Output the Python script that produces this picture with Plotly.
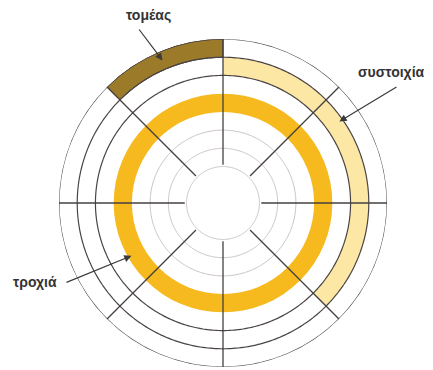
import numpy as np
import plotly.graph_objects as go

# disk geometry, in track units (radius of the outer edge = 9)
inner_circles = [2, 3, 4]
outer_circles = [7, 8, 9]
spoke_angles = [0, 45, 90, 135, 180, 225, 270, 315]
spoke_start = 2.1

# highlighted regions: (label, start angle, end angle, inner r, outer r)
track = ("τροχιά", 0, 360, 5, 6)
sector = ("τομέας", 90, 135, 8, 9)
cluster = ("συστοιχία", -45, 90, 7, 8)

# arrow heads, in (r, theta) on the disk
arrow_heads = {"τομέας": (8.5, 113), "συστοιχία": (7.8, 35), "τροχιά": (5.8, 210)}

# the page body adds an 8px margin, so the figure is drawn 8px smaller
# and all pixel positions below (taken from the window) are shifted by it
OFF = 8
W, H = 433 - OFF, 370 - OFF
CX, CY, RPX = 223 - OFF, 203 - OFF, 164  # centre and outer radius in pixels


def to_paper(r, theta):
    rr = r / 9 * RPX
    x = CX + rr * np.cos(np.radians(theta))
    y = CY - rr * np.sin(np.radians(theta))
    return x / W, 1 - y / H


def band(region, color, line_color=None):
    name, a0, a1, r0, r1 = region
    return go.Barpolar(
        theta=[(a0 + a1) / 2], width=[a1 - a0], base=[r0], r=[r1 - r0],
        marker=dict(color=color, line=dict(color=line_color or color, width=1 if line_color else 0)),
        name=name, hoverinfo="name",
    )


def circles(radii):
    th, rr = [], []
    for r in radii:
        t = np.linspace(0, 360, 361)
        th += list(t) + [None]
        rr += [r] * len(t) + [None]
    return th, rr


fig = go.Figure()
fig.add_trace(band(track, "#F6B91E"))
fig.add_trace(band(cluster, "#FCE7A4"))
fig.add_trace(band(sector, "#9B7A2A", "#3a3430"))

th, rr = circles(inner_circles)
fig.add_trace(go.Scatterpolar(theta=th, r=rr, mode="lines", line=dict(color="#c9c1c1", width=1), hoverinfo="skip"))
th, rr = circles(outer_circles)
fig.add_trace(go.Scatterpolar(theta=th, r=rr, mode="lines", line=dict(color="#4a4444", width=1.2), hoverinfo="skip"))

th, rr = [], []
for a in spoke_angles:
    th += [a, a, None]
    rr += [spoke_start, 9, None]
fig.add_trace(go.Scatterpolar(theta=th, r=rr, mode="lines", line=dict(color="#444040", width=1.3), hoverinfo="skip"))

fig.update_layout(
    width=W, height=H,
    margin=dict(l=0, r=0, t=0, b=0),
    paper_bgcolor="white",
    showlegend=False,
    polar=dict(
        domain=dict(x=[(CX - RPX) / W, (CX + RPX) / W], y=[1 - (CY + RPX) / H, 1 - (CY - RPX) / H]),
        bgcolor="white",
        radialaxis=dict(range=[0, 9], visible=False),
        angularaxis=dict(visible=False, rotation=0, direction="counterclockwise"),
        barmode="overlay",
    ),
    font=dict(family="Liberation Sans, Arial, sans-serif", color="#333333"),
)

# labels and arrows: label centre (px), tail of arrow (px), in window pixels
labels = {
    "τομέας": ((148, 15), (138, 28)),
    "συστοιχία": ((391, 72), (398, 86)),
    "τροχιά": ((35, 282), (65, 283)),
}
for name, ((lx, ly), (tx, ty)) in labels.items():
    lx, ly, tx, ty = lx - OFF, ly - OFF, tx - OFF, ty - OFF
    fig.add_annotation(x=lx / W, y=1 - ly / H, xref="paper", yref="paper", text="<b>" + name + "</b>",
                       xanchor="center", yanchor="middle",
                       showarrow=False, font=dict(size=14, color="#333333"))
    hx, hy = to_paper(*arrow_heads[name])
    fig.add_annotation(x=hx, y=hy, xref="paper", yref="paper", text="", showarrow=True,
                       ax=tx - hx * W, ay=ty - (1 - hy) * H, arrowhead=2, arrowsize=1.2,
                       arrowwidth=1.2, arrowcolor="#3a3a3a")

fig.write_html("out.html")
